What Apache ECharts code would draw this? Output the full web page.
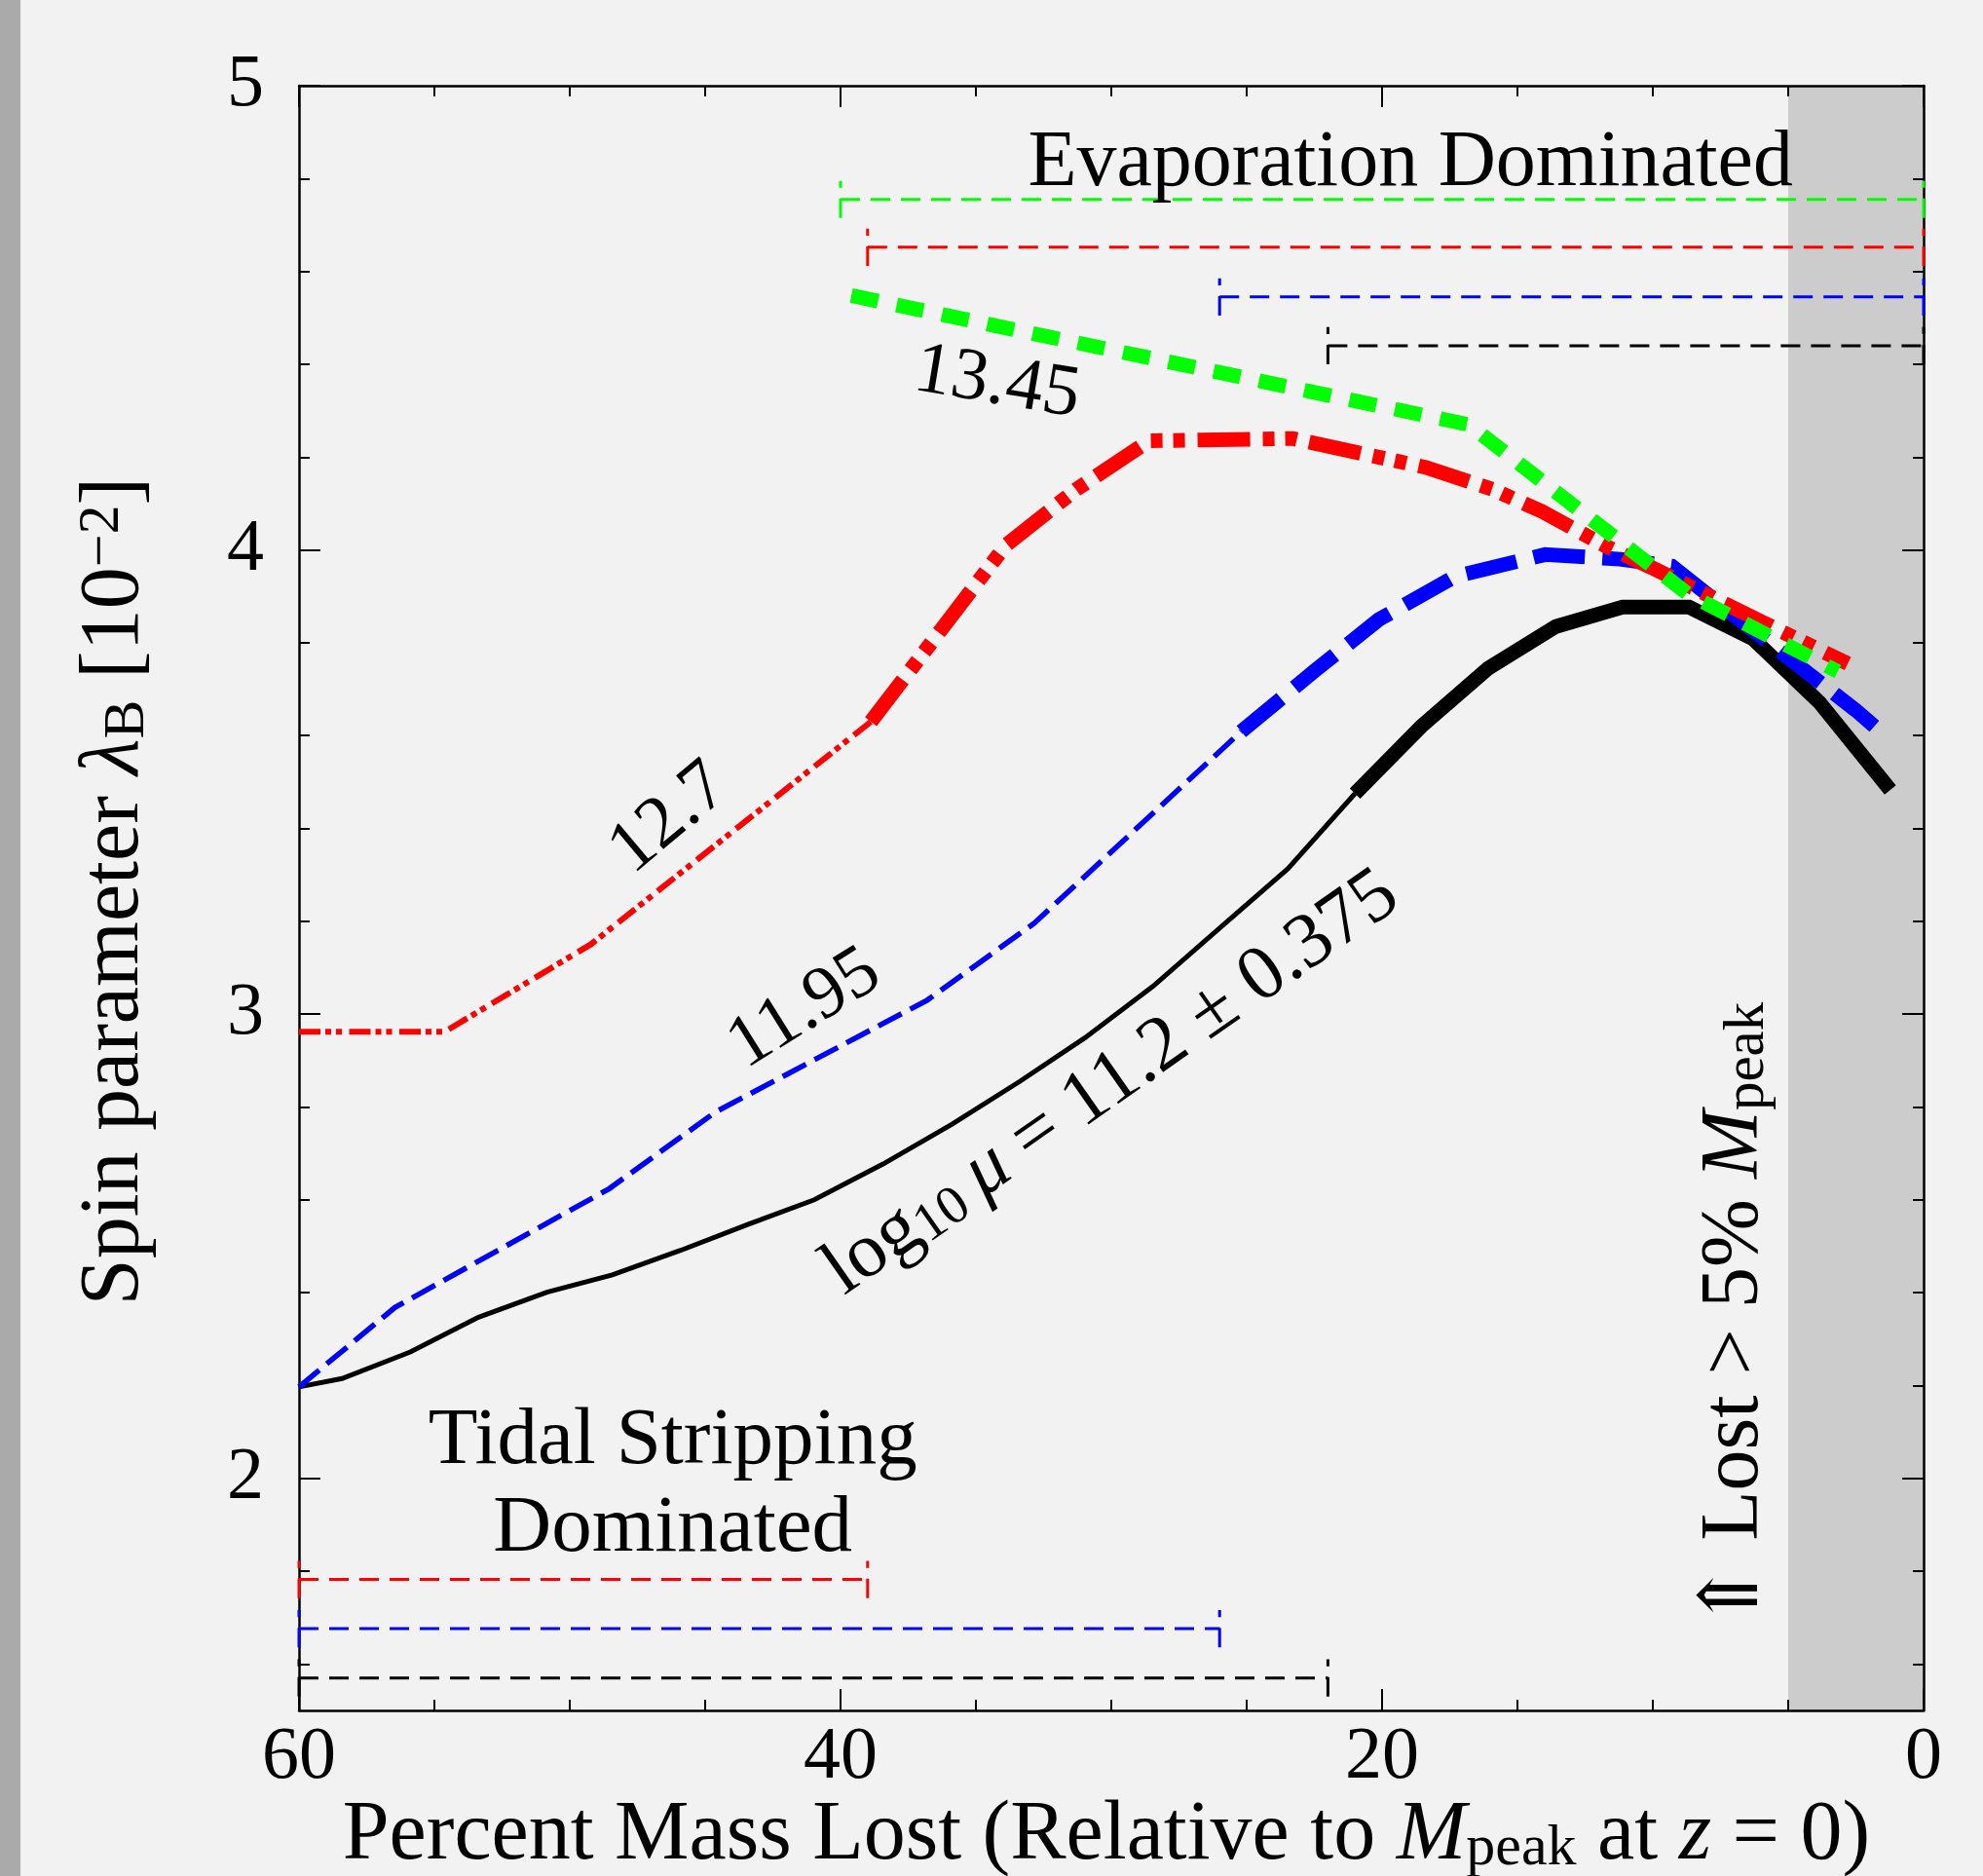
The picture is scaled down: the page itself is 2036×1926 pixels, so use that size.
<!DOCTYPE html>
<html>
<head>
<meta charset="utf-8">
<style>
  html, body { margin: 0; padding: 0; background: #f2f2f2; }
  #chart { width: 2036px; height: 1926px; }
</style>
<script src="https://cdn.jsdelivr.net/npm/echarts@6/dist/echarts.min.js"></script>
</head>
<body>
<div id="chart"></div>
<script>
var FONT = "'Liberation Serif', 'DejaVu Serif', serif";

// x = percent of peak mass lost, y = spin parameter lambda_B [1e-2]
var blackThin = [[60, 2.197], [58.41, 2.215], [55.89, 2.272], [53.37, 2.347], [50.84, 2.401], [48.43, 2.438],
  [45.91, 2.491], [43.38, 2.548], [40.97, 2.6], [38.43, 2.677], [35.88, 2.763], [33.38, 2.855],
  [30.97, 2.949], [28.46, 3.06], [26.0, 3.185], [23.48, 3.313], [21.0, 3.475]];
var blackThick = [[21.0, 3.475], [18.55, 3.62], [16.08, 3.745], [13.58, 3.835], [11.12, 3.877], [8.66, 3.877],
  [6.29, 3.808], [3.84, 3.671], [1.23, 3.483]];
var blueThin = [[60, 2.197], [56.46, 2.368], [48.54, 2.624], [44.62, 2.789], [36.8, 3.03], [32.84, 3.196], [25.2, 3.609]];
var blueThick = [[25.2, 3.609], [22.46, 3.741], [20.12, 3.85], [17.3, 3.943], [13.98, 3.99], [11.2, 3.98],
  [9.3, 3.965], [6.04, 3.815], [2.49, 3.654], [1.82, 3.62]];
var redThin = [[60, 2.962], [54.62, 2.962], [49.23, 3.15], [45.33, 3.331], [38.88, 3.63]];
var redThick = [[38.88, 3.63], [33.9, 4.01], [31.3, 4.13], [28.6, 4.235], [23.3, 4.24], [18.4, 4.178],
  [15.9, 4.13], [14.1, 4.083], [11.8, 4.01], [9.9, 3.958], [5.9, 3.843], [2.8, 3.755]];
var greenThick = [[39.6, 4.548], [16.8, 4.27], [8.7, 3.905], [3.17, 3.738]];

// regime ranges drawn as bars (evaporation: from start to 0, tidal: from 60 to end)
var evapColors = ['#00ff00', '#ff0000', '#0000ff', '#000000'];
var evapStart = [40.0, 39.0, 26.0, 22.0];
var evapLevel = [4.755, 4.652, 4.545, 4.44];
var tidalColors = ['#ff0000', '#0000ff', '#000000'];
var tidalEnd = [39.0, 26.0, 22.0];
var tidalLevel = [1.782, 1.676, 1.57];
var lostCut = 5;

var yMajor = [2, 3, 4, 5];
var yMinor = [1.6, 1.8, 2.2, 2.4, 2.6, 2.8, 3.2, 3.4, 3.6, 3.8, 4.2, 4.4, 4.6, 4.8];

var capHalf = 0.04;
var barDash = [20, 11];

function lineSeries(data, color, width, dash, extra) {
  var s = {
    type: 'line', data: data, symbol: 'none', silent: true, z: 2,
    lineStyle: { color: color, width: width, type: dash || 'solid', cap: 'butt', join: 'miter' }
  };
  for (var k in extra || {}) s[k] = extra[k];
  return s;
}

function barSeries(from, to, level, color) {
  return [
    lineSeries([[from, level], [to, level]], color, 3, barDash),
    lineSeries([[from, level - capHalf], [from, level + capHalf]], color, 3, barDash),
    lineSeries([[to, level - capHalf], [to, level + capHalf]], color, 3, barDash)
  ];
}

var series = [];
evapStart.forEach(function (s, i) { series = series.concat(barSeries(s, 0, evapLevel[i], evapColors[i])); });
tidalEnd.forEach(function (e, i) { series = series.concat(barSeries(60, e, tidalLevel[i], tidalColors[i])); });

series.push(lineSeries(blackThin, '#000', 5, 'solid', {
  markArea: { silent: true, z: 1, itemStyle: { color: '#cccccc' }, data: [[{ xAxis: lostCut }, { xAxis: 0 }]] }
}));
series.push(lineSeries(blackThick, '#000', 15, 'solid'));
series.push(lineSeries(blueThin, '#0000ff', 5.5, [27, 10]));
series.push(lineSeries(blueThick, '#0000ff', 15, [53, 18]));
series.push(lineSeries(redThin, '#ff0000', 6, [22, 5, 6, 5, 6, 7.5]));
series.push(lineSeries(redThick, '#ff0000', 15, [54, 13, 12, 11, 12, 13]));
series.push(lineSeries(greenThick, '#00ff00', 15, [28, 19.5]));

function xAxisOpt(pos, showLabel) {
  return {
    type: 'value', position: pos, min: 0, max: 60, interval: 20, inverse: true, z: 1.5,
    axisLine: { show: true, onZero: false, lineStyle: { color: '#000', width: 2.5 } },
    axisTick: { show: true, inside: true, length: 22, lineStyle: { color: '#000', width: 2 } },
    minorTick: { show: true, splitNumber: 4, length: 11, lineStyle: { color: '#000', width: 2 } },
    splitLine: { show: false }, minorSplitLine: { show: false },
    axisLabel: { show: showLabel, color: '#000', fontFamily: FONT, fontSize: 76, lineHeight: 76, margin: 11 }
  };
}

function yAxisOpt(pos, ticks, len, showLine, showLabel) {
  return {
    type: 'value', position: pos, min: 1.5, max: 5, z: 1.5,
    axisLine: { show: showLine, onZero: false, lineStyle: { color: '#000', width: 2.5 } },
    axisTick: { show: true, inside: true, length: len, customValues: ticks, lineStyle: { color: '#000', width: 2 } },
    splitLine: { show: false },
    axisLabel: { show: showLabel, customValues: ticks, color: '#000', fontFamily: FONT, fontSize: 76,
      margin: 36, padding: [0, 0, 16, 0] }
  };
}

var option = {
  backgroundColor: '#f2f2f2',
  animation: false,
  grid: { left: 307, right: 61, top: 88, bottom: 170 },
  xAxis: [xAxisOpt('bottom', true), xAxisOpt('top', false)],
  yAxis: [
    yAxisOpt('left', yMajor, 22, true, true),
    yAxisOpt('left', yMinor, 11, false, false),
    yAxisOpt('right', yMajor, 22, true, false),
    yAxisOpt('right', yMinor, 11, false, false)
  ],
  series: series
};

var chart = echarts.init(document.getElementById('chart'));
chart.setOption(option);

function mathRich(s) {
  return {
    i: { fontFamily: FONT, fontStyle: 'italic', fontSize: s, lineHeight: s, fill: '#000' },
    sub: { fontFamily: FONT, fontSize: Math.round(s * 0.7), lineHeight: Math.round(s * 0.48), verticalAlign: 'bottom', fill: '#000' },
    sup: { fontFamily: FONT, fontSize: Math.round(s * 0.7), lineHeight: Math.round(s * 0.42), verticalAlign: 'top', fill: '#000' }
  };
}

function label(txt, p, rot, size, lh) {
  return {
    type: 'text', x: p[0], y: p[1], rotation: rot || 0, z: 100, silent: true,
    style: {
      text: txt, fill: '#000', fontFamily: FONT, fontSize: size, lineHeight: lh || size,
      align: 'center', verticalAlign: 'middle', textAlign: 'center', textVerticalAlign: 'middle',
      rich: mathRich(size)
    }
  };
}

function at(x, y) { return chart.convertToPixel({ seriesIndex: 0 }, [x, y]); }
var deg = Math.PI / 180;

chart.setOption({
  graphic: [
    { type: 'rect', shape: { x: 0, y: 0, width: 21, height: 1926 }, style: { fill: '#aaaaaa' }, silent: true, z: 100 },
    label('Evaporation Dominated', at(18.95, 4.832), 0, 82),
    label('Tidal Stripping\nDominated', at(46.2, 1.985), 0, 83, 90),
    label('13.45', at(34.22, 4.358), -9.5 * deg, 76),
    label('12.7', at(46.31, 3.421), 40 * deg, 76),
    label('11.95', at(41.32, 3.01), 32 * deg, 76),
    label('log{sub|10}\u2009{i|\u03bc} = 11.2 \u00b1 0.375', at(29.99, 2.851), 35 * deg, 80),
    label('\u21d1 Lost > 5% {i|M}{sub|peak}', at(6.93, 2.35), 90 * deg, 84),
    label('Percent Mass Lost (Relative to {i|M}{sub|peak} at {i|z} = 0)', [1136, 1885], 0, 86),
    label('Spin parameter {i|\u03bb}{sub|B} [10{sup|\u22122}]', [118, 915], 90 * deg, 86)
  ]
});
</script>
</body>
</html>
